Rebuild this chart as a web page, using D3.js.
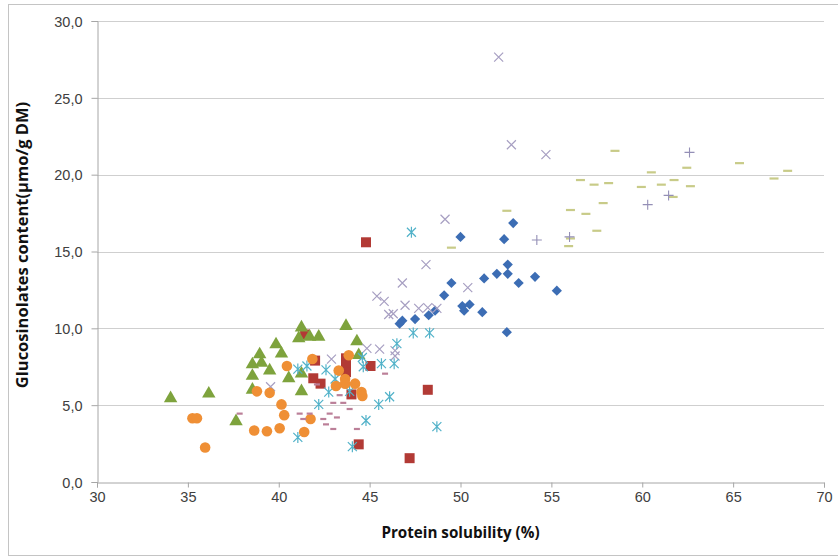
<!DOCTYPE html>
<html>
<head>
<meta charset="utf-8">
<script src="https://cdn.jsdelivr.net/npm/d3@7"></script>
<style>
  body { margin: 0; background: #fff; }
  #chart svg { display: block; }
</style>
</head>
<body>
<div id="chart"></div>
<script>
// each series: [protein solubility %, glucosinolates µmol/g DM]
let blueDiamonds = [
  [46.65, 10.3], [46.8, 10.5], [47.5, 10.6], [48.25, 10.85], [48.6, 11.15], [49.1, 12.15],
  [49.5, 12.95], [50.0, 15.95], [50.1, 11.45], [50.2, 11.15], [50.5, 11.55], [51.2, 11.05],
  [51.3, 13.25], [52.0, 13.55], [52.4, 15.8], [52.55, 9.75], [52.6, 14.15], [52.6, 13.55],
  [52.9, 16.85], [53.2, 12.95], [54.1, 13.35], [55.3, 12.45]
]
let redSquares = [
  [41.45, 9.6], [42.0, 7.9], [43.7, 8.05], [43.7, 7.6], [43.7, 7.15], [45.05, 7.55],
  [41.9, 6.75], [42.3, 6.4], [44.0, 5.7], [48.2, 6.0], [44.4, 2.45], [47.2, 1.55], [44.8, 15.6]
]
let greenTriangles = [
  [34.05, 5.45], [36.15, 5.75], [37.65, 3.95], [38.55, 7.65], [38.95, 8.3], [39.05, 7.75],
  [39.85, 8.95], [40.15, 8.35], [39.5, 7.25], [38.55, 6.9], [38.55, 6.0], [40.55, 6.75],
  [41.1, 9.35], [41.25, 10.05], [41.7, 9.45], [42.2, 9.45], [43.7, 10.15], [44.3, 9.15],
  [44.4, 8.25], [41.25, 7.05], [41.25, 5.9]
]
let purpleCrosses = [
  [52.1, 27.65], [52.8, 21.95], [54.7, 21.3], [49.15, 17.1], [48.1, 14.15], [46.8, 12.95],
  [50.4, 12.65], [45.4, 12.1], [45.8, 11.75], [46.95, 11.5], [47.7, 11.3], [48.2, 11.35],
  [48.7, 11.3], [46.05, 10.9], [46.3, 10.95], [44.85, 8.7], [45.55, 8.65], [46.4, 8.55],
  [46.4, 8.2], [42.9, 8.0], [39.55, 6.2]
]
let cyanStars = [
  [47.3, 16.25], [47.4, 9.7], [48.3, 9.7], [46.5, 9.0], [45.65, 7.7], [46.35, 7.7],
  [46.1, 5.55], [45.5, 5.05], [44.8, 4.0], [48.7, 3.6], [44.05, 2.3], [41.05, 2.9],
  [41.05, 7.35], [41.55, 7.55], [42.6, 7.3], [43.1, 6.7], [42.75, 5.85], [43.9, 5.9],
  [42.2, 5.05], [44.6, 8.1], [44.65, 7.5]
]
let orangeCircles = [
  [35.25, 4.15], [35.5, 4.15], [35.95, 2.25], [38.8, 5.9], [39.5, 5.8], [40.15, 5.05],
  [40.3, 4.35], [38.65, 3.35], [39.35, 3.3], [40.05, 3.5], [40.45, 7.55], [41.85, 8.0],
  [43.85, 8.25], [43.3, 7.25], [43.65, 6.7], [43.65, 6.4], [44.2, 6.4], [43.15, 6.25],
  [44.55, 5.85], [44.6, 5.6], [41.75, 4.1], [41.4, 3.25]
]
let pinkDashes = [
  [37.85, 4.45], [43.0, 5.15], [43.55, 5.15], [43.9, 4.75], [41.15, 4.45], [41.7, 4.45],
  [41.35, 4.1], [42.45, 4.1], [42.8, 4.45], [43.2, 4.2], [42.6, 3.75], [43.0, 3.45],
  [44.3, 3.45], [45.85, 7.05], [42.1, 6.35], [43.35, 5.65]
]
let oliveDashes = [
  [58.5, 21.55], [56.6, 19.65], [57.35, 19.35], [58.15, 19.45], [60.5, 20.15], [59.95, 19.2],
  [61.05, 19.35], [61.75, 19.65], [62.45, 20.45], [62.65, 19.25], [61.7, 18.55], [65.35, 20.75],
  [67.25, 19.75], [68.0, 20.25], [57.85, 18.15], [56.05, 17.7], [56.9, 17.45], [57.5, 16.35],
  [56.05, 15.85], [55.95, 15.35], [52.55, 17.65], [49.5, 15.25]
]
let greyPluses = [
  [62.6, 21.45], [61.45, 18.65], [60.3, 18.05], [54.2, 15.75], [56.0, 15.95]
]
let xTicks = [30, 35, 40, 45, 50, 55, 60, 65, 70]
let yTicks = [0, 5, 10, 15, 20, 25, 30]

let width = 838
let height = 556
let margin = { left: 97, right: 14, top: 21, bottom: 74 }
let axisColor = '#a6a6a6'
let gridColor = '#cfcfcf'
let textColor = '#404040'

let svg = d3
  .select('#chart')
  .append('svg')
  .attr('width', width)
  .attr('height', height)
  .style('font-family', "'Open Sans', 'Noto Sans', sans-serif")

svg
  .append('rect')
  .attr('x', 8.5)
  .attr('y', 4.5)
  .attr('width', width - 8)
  .attr('height', height - 5)
  .attr('fill', '#fff')
  .attr('stroke', '#c4c4c4')

let x = d3.scaleLinear().domain([30, 70]).range([margin.left, width - margin.right])
let y = d3.scaleLinear().domain([0, 30]).range([height - margin.bottom, margin.top])

let comma = d3.formatLocale({ decimal: ',', thousands: '.', grouping: [3], currency: ['', ''] }).format('.1f')

let plot = svg.append('g')

plot
  .append('g')
  .selectAll('line')
  .data(yTicks.filter(d => d > 0))
  .enter()
  .append('line')
  .attr('x1', x(30))
  .attr('x2', x(70))
  .attr('y1', d => Math.round(y(d)) + 0.5)
  .attr('y2', d => Math.round(y(d)) + 0.5)
  .attr('stroke', gridColor)
  .attr('stroke-width', 1.2)

let yAxis = plot
  .append('g')
  .attr('transform', 'translate(' + (x(30) + 0.5) + ',0)')
  .call(d3.axisLeft(y).tickValues(yTicks).tickFormat(comma).tickSize(6).tickPadding(9))
let xAxis = plot
  .append('g')
  .attr('transform', 'translate(0,' + (Math.round(y(0)) + 0.5) + ')')
  .call(d3.axisBottom(x).tickValues(xTicks).tickSize(5).tickPadding(4))

;[yAxis, xAxis].forEach(a => {
  a.select('.domain').attr('stroke', axisColor)
  a.selectAll('.tick line').attr('stroke', axisColor)
  a.selectAll('.tick text')
    .attr('fill', textColor)
    .style('font-size', '14.5px')
})
yAxis.selectAll('.tick text').attr('dy', '0.36em')

svg
  .append('text')
  .attr('x', (x(30) + x(70)) / 2)
  .attr('y', 538)
  .attr('text-anchor', 'middle')
  .attr('fill', '#111')
  .style('font-weight', 'bold')
  .style('font-size', '15.2px')
  .text('Protein solubility (%)')

svg
  .append('text')
  .attr('transform', 'translate(28,245)rotate(-90)')
  .attr('text-anchor', 'middle')
  .attr('fill', '#111')
  .style('font-weight', 'bold')
  .style('font-size', '16.5px')
  .text('Glucosinolates content(µmo/g DM)')

let crossPath = 'M-4.5,-4.5L4.5,4.5M-4.5,4.5L4.5,-4.5'
let starPath = 'M-4.5,-4.5L4.5,4.5M-4.5,4.5L4.5,-4.5M0,-5.5L0,5.5'
let plusPath = 'M-5,0L5,0M0,-5L0,5'

let series = [
  { data: blueDiamonds, color: '#3c6db4', kind: 'diamond' },
  { data: redSquares, color: '#b23a35', kind: 'square' },
  { data: greenTriangles, color: '#7ea33d', kind: 'triangle' },
  { data: purpleCrosses, color: '#a79fc2', kind: 'cross' },
  { data: cyanStars, color: '#52b2c9', kind: 'star' },
  { data: orangeCircles, color: '#ef8f35', kind: 'circle' },
  { data: pinkDashes, color: '#bb7f98', kind: 'dash', len: 6 },
  { data: oliveDashes, color: '#c8cb88', kind: 'dash', len: 9 },
  { data: greyPluses, color: '#948fb6', kind: 'plus' }
]

series.forEach(s => {
  let g = plot.append('g')
  let pts = g
    .selectAll('path')
    .data(s.data)
    .enter()
    .append('path')
    .attr('transform', d => 'translate(' + x(d[0]) + ',' + y(d[1]) + ')' + (s.kind === 'diamond' ? 'rotate(45)' : ''))
  if (s.kind === 'diamond') {
    pts.attr('d', d3.symbol().type(d3.symbolSquare).size(52)).attr('fill', s.color)
  } else if (s.kind === 'square') {
    pts.attr('d', d3.symbol().type(d3.symbolSquare).size(100)).attr('fill', s.color)
  } else if (s.kind === 'triangle') {
    pts.attr('d', d3.symbol().type(d3.symbolTriangle).size(78)).attr('fill', s.color)
  } else if (s.kind === 'circle') {
    pts.attr('d', d3.symbol().type(d3.symbolCircle).size(88)).attr('fill', s.color)
  } else if (s.kind === 'cross') {
    pts.attr('d', crossPath).attr('fill', 'none').attr('stroke', s.color).attr('stroke-width', 1.2)
  } else if (s.kind === 'star') {
    pts.attr('d', starPath).attr('fill', 'none').attr('stroke', s.color).attr('stroke-width', 1.2)
  } else if (s.kind === 'plus') {
    pts.attr('d', plusPath).attr('fill', 'none').attr('stroke', s.color).attr('stroke-width', 1.1)
  } else {
    pts
      .attr('d', 'M' + (-s.len / 2) + ',0L' + (s.len / 2) + ',0')
      .attr('fill', 'none')
      .attr('stroke', s.color)
      .attr('stroke-width', 2.2)
  }
})
</script>
</body>
</html>
